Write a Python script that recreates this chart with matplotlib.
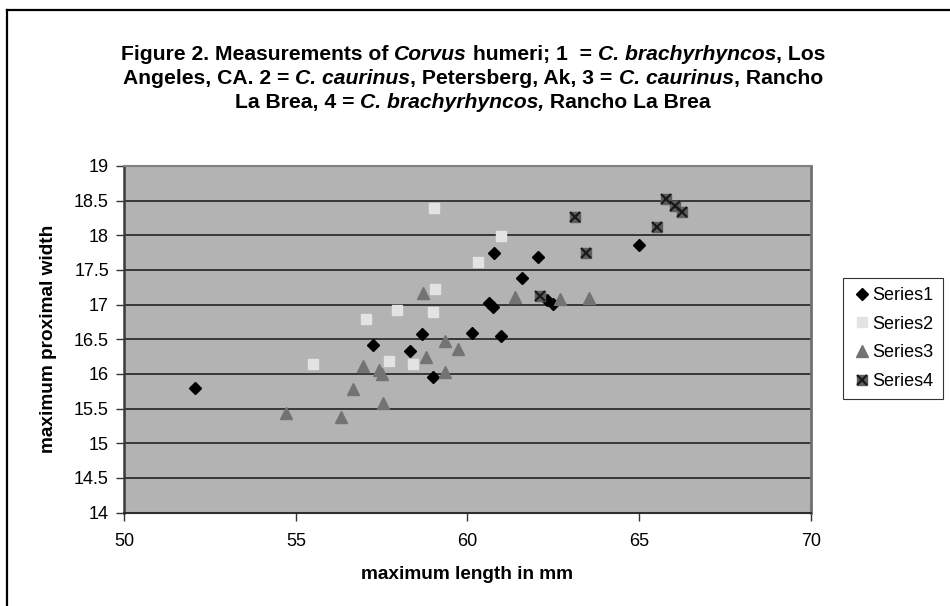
import matplotlib
matplotlib.use('Agg')
import matplotlib.pyplot as plt
from matplotlib.lines import Line2D

plt.rcParams['font.family'] = ['Liberation Sans', 'DejaVu Sans']

# Series1 - C. brachyrhyncos, Los Angeles
s1_x = [52.06, 57.24, 58.32, 58.68, 58.99, 60.13, 60.64, 60.73, 60.77, 60.98,
        61.58, 62.05, 62.31, 62.48, 65.0]
s1_y = [15.80, 16.42, 16.33, 16.57, 15.96, 16.59, 17.02, 16.96, 17.75, 16.55,
        17.39, 17.68, 17.07, 17.01, 17.86]
# Series2 - C. caurinus, Petersberg
s2_x = [55.51, 57.04, 57.72, 57.94, 58.42, 58.99, 59.03, 59.06, 60.30, 60.97]
s2_y = [16.14, 16.79, 16.19, 16.92, 16.15, 16.89, 18.40, 17.23, 17.61, 17.99]
# Series3 - C. caurinus, Rancho La Brea
s3_x = [54.71, 56.32, 56.67, 56.96, 57.43, 57.51, 57.54, 58.70, 58.78, 59.34,
        59.35, 59.71, 61.37, 62.70, 63.55]
s3_y = [15.43, 15.38, 15.78, 16.12, 16.06, 16.00, 15.58, 17.17, 16.25, 16.03,
        16.48, 16.36, 17.11, 17.08, 17.09]
# Series4 - C. brachyrhyncos, Rancho La Brea
s4_x = [62.11, 63.12, 63.44, 65.52, 65.77, 66.06, 66.25]
s4_y = [17.12, 18.27, 17.74, 18.12, 18.52, 18.42, 18.34]

series_names = ['Series1', 'Series2', 'Series3', 'Series4']
x_ticks = [50, 55, 60, 65, 70]
y_ticks = [14, 14.5, 15, 15.5, 16, 16.5, 17, 17.5, 18, 18.5, 19]
y_tick_labels = ['14', '14.5', '15', '15.5', '16', '16.5', '17', '17.5', '18', '18.5', '19']

# title pieces: (text, italic)
title_lines = [
    [('Figure 2. Measurements of ', False), ('Corvus', True), (' humeri; 1  = ', False),
     ('C. brachyrhyncos', True), (', Los', False)],
    [('Angeles, CA. 2 = ', False), ('C. caurinus', True), (', Petersberg, Ak, 3 = ', False),
     ('C. caurinus', True), (', Rancho', False)],
    [('La Brea, 4 = ', False), ('C. brachyrhyncos,', True), (' Rancho La Brea', False)],
]

fig = plt.figure(figsize=(9.5, 6.06), dpi=100)
ax = fig.add_axes([0.1308, 0.1541, 0.7226, 0.572])
ax.set_facecolor('#b3b3b3')

ax.set_xlim(50, 70)
ax.set_ylim(14, 19)
ax.set_xticks(x_ticks)
ax.set_yticks(y_ticks)
ax.set_yticklabels(y_tick_labels)
ax.tick_params(axis='both', labelsize=13, length=6, width=1, color='#333333', pad=5)
ax.tick_params(axis='x', pad=9)

for y in y_ticks[1:-1]:
    ax.axhline(y, color='#2e2e2e', lw=1.3, zorder=1)

ax.spines['left'].set_color('#3a3a3a')
ax.spines['left'].set_linewidth(1.8)
ax.spines['bottom'].set_color('#2e2e2e')
ax.spines['bottom'].set_linewidth(1.5)
ax.spines['top'].set_color('#808080')
ax.spines['top'].set_linewidth(1.5)
ax.spines['right'].set_color('#707070')
ax.spines['right'].set_linewidth(2)

ax.plot(s1_x, s1_y, ls='none', marker='D', ms=6.2, color='black', zorder=3)
ax.plot(s2_x, s2_y, ls='none', marker='s', ms=7.5, color='#e3e3e3', zorder=3)
ax.plot(s3_x, s3_y, ls='none', marker='^', ms=8.5, color='#737373', zorder=3)
ax.plot(s4_x, s4_y, ls='none', marker='s', ms=7.5, color='#5e5e5e', zorder=3)
ax.plot(s4_x, s4_y, ls='none', marker='x', ms=7.5, mew=1.6, color='#1a1a1a', zorder=4)

ax.set_xlabel('maximum length in mm', fontsize=13.7, fontweight='bold', labelpad=11)
ax.set_ylabel('maximum proximal width', fontsize=13.7, fontweight='bold', labelpad=12)

# title, drawn piece by piece so the italic names sit inline
renderer = fig.canvas.get_renderer()
title_fs = 15.2
W = 950.0
H = 606.0


def piece_width(s, italic):
    style = 'italic' if italic else 'normal'
    t = fig.text(0, 0, '|' + s + '|', fontsize=title_fs, fontweight='bold', fontstyle=style)
    b = fig.text(0, 0, '||', fontsize=title_fs, fontweight='bold', fontstyle=style)
    w = t.get_window_extent(renderer).width - b.get_window_extent(renderer).width
    t.remove()
    b.remove()
    return w


baselines = [60, 84, 108]
for pieces, base in zip(title_lines, baselines):
    widths = [piece_width(s, it) for s, it in pieces]
    x = 473 - sum(widths) / 2
    for (s, it), w in zip(pieces, widths):
        fig.text(x / W, 1 - base / H, s, fontsize=title_fs, fontweight='bold',
                 fontstyle='italic' if it else 'normal', ha='left', va='baseline')
        x += w

h1 = Line2D([], [], ls='none', marker='D', ms=6.2, color='black')
h2 = Line2D([], [], ls='none', marker='s', ms=7.5, color='#e3e3e3')
h3 = Line2D([], [], ls='none', marker='^', ms=8.5, color='#737373')
h4a = Line2D([], [], ls='none', marker='s', ms=7.5, color='#5e5e5e')
h4b = Line2D([], [], ls='none', marker='x', ms=7.5, mew=1.6, color='#1a1a1a')
leg = fig.legend([h1, h2, h3, (h4a, h4b)], series_names,
                 loc='upper left', bbox_to_anchor=(0.887, 0.5413), fontsize=13,
                 frameon=True, fancybox=False, framealpha=1, edgecolor='#333333',
                 handlelength=1.1, handletextpad=0.05, borderpad=0.5, labelspacing=0.65,
                 borderaxespad=0)
leg.get_frame().set_linewidth(0.8)

# outer chart border (only left and top edges visible)
fig.add_artist(Line2D([0.0071, 0.0071], [0, 0.9835], transform=fig.transFigure,
                      color='black', lw=1.6))
fig.add_artist(Line2D([0.0071, 1.0], [0.9835, 0.9835], transform=fig.transFigure,
                      color='black', lw=1.6))

fig.savefig('out.png', dpi=100)
